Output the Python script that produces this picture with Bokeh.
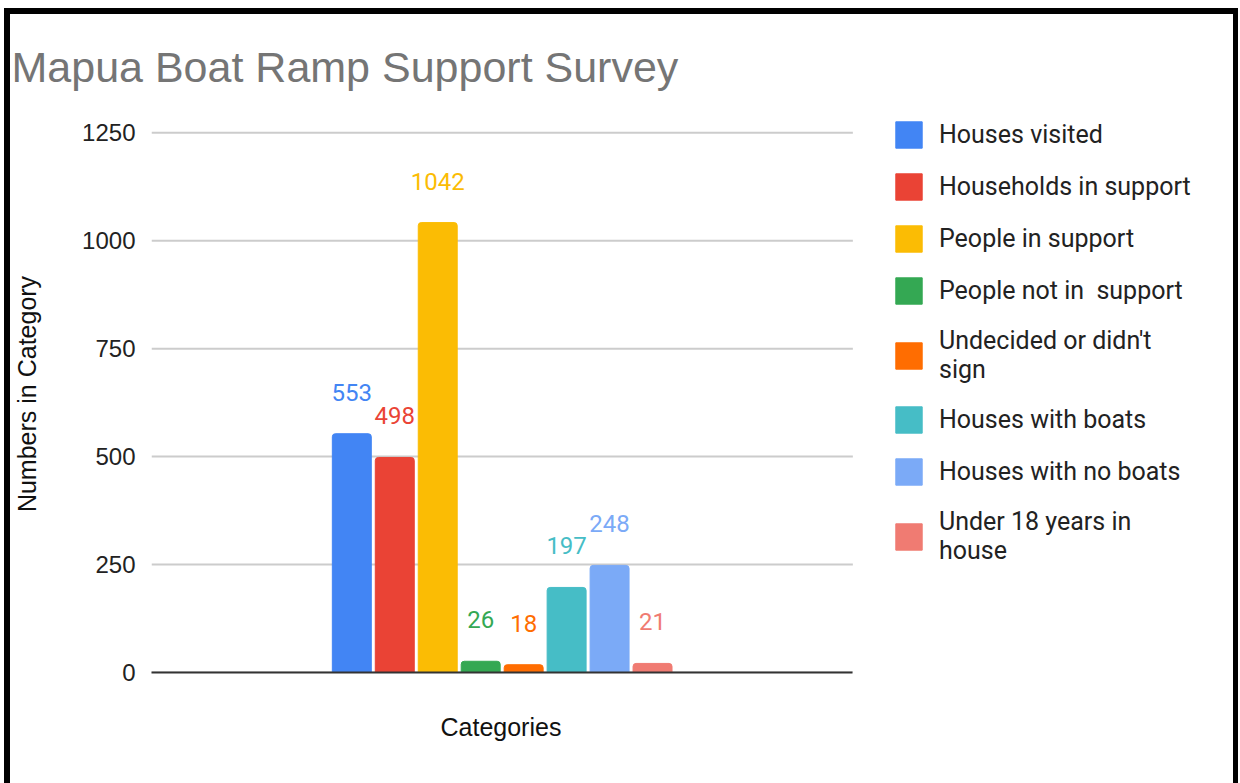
import textwrap
from bokeh.plotting import figure
from bokeh.models import (ColumnDataSource, Range1d, LabelSet, Legend, LegendItem,
                          FixedTicker, Title)
from bokeh.layouts import row
from bokeh.core.properties import value
from bokeh.embed import file_html
from bokeh.resources import INLINE

# ---- data ----
series = ["Houses visited", "Households in support", "People in support",
          "People not in  support", "Undecided or didn't sign",
          "Houses with boats", "Houses with no boats", "Under 18 years in house"]
counts = [553, 498, 1042, 26, 18, 197, 248, 21]
colors = ["#4285F4", "#EA4335", "#FBBC04", "#34A853", "#FF6D01",
          "#46BDC6", "#7BAAF7", "#F07B72"]
y_ticks = [0, 250, 500, 750, 1000, 1250]
title_text = "Mapua Boat Ramp Support Survey"
x_title = "Categories"
y_title = "Numbers in Category"

RB_FONT = value("Roboto")

# ---- layout constants (pixels) ----
n = len(series)
slot_px = 43.0            # one bar slot
plot_w = 702.0            # width of the bar area
frame_w = 1083.0          # bar area + legend area
x_title_w = 124.0         # approx. rendered width of the x-axis title
half = plot_w / slot_px / 2
mid = (n - 1) / 2
x_start = mid - half
x_plot_end = mid + half
x_end = x_start + frame_w / slot_px

src = ColumnDataSource(dict(pos=list(range(n)), name=series, count=counts,
                            color=colors, label=[str(c) for c in counts]))

p = figure(x_range=Range1d(x_start, x_end), y_range=Range1d(0, 1290),
           width=1223, height=769, output_backend="svg", toolbar_location=None,
           min_border_left=140, min_border_right=0, min_border_top=101,
           min_border_bottom=111)
p.outline_line_color = None
p.background_fill_color = "white"
p.border_fill_color = "white"

# horizontal gridlines limited to the bar area
p.segment(x0=[x_start] * len(y_ticks), x1=[x_plot_end] * len(y_ticks),
          y0=y_ticks, y1=y_ticks, line_color="#cccccc", line_width=2)

bars = p.vbar(x="pos", top="count", width=39 / slot_px, color="color", source=src,
              border_radius=(3, 3, 0, 0))

labels = LabelSet(x="pos", y="count", text="label", source=src, y_offset=33,
                  text_align="center", text_baseline="alphabetic",
                  text_color="color", text_font=RB_FONT, text_font_size="24px")
p.add_layout(labels)

# title
p.title.text = title_text
p.title.text_font = "Liberation Sans"
p.title.text_font_size = "43px"
p.title.text_font_style = "normal"
p.title.text_color = "#757575"
p.title.align = "left"
p.title.offset = -140
p.title.standoff = 49

# y axis
p.yaxis.ticker = FixedTicker(ticks=y_ticks)
p.yaxis.axis_line_color = None
p.yaxis.major_tick_line_color = None
p.yaxis.major_tick_out = 0
p.yaxis.major_tick_in = 0
p.yaxis.minor_tick_line_color = None
p.yaxis.major_label_standoff = 16
p.yaxis.major_label_text_font = "Liberation Sans"
p.yaxis.major_label_text_font_size = "24px"
p.yaxis.major_label_text_color = "#222222"
p.yaxis.axis_label = y_title
p.yaxis.axis_label_text_font = "Liberation Sans"
p.yaxis.axis_label_text_font_size = "25px"
p.yaxis.axis_label_text_font_style = "normal"
p.yaxis.axis_label_text_color = "#111111"
p.yaxis.axis_label_standoff = 38

# x axis: the base line over the bar area only
p.xaxis.bounds = (x_start, x_plot_end)
p.xaxis.ticker = FixedTicker(ticks=[])
p.xaxis.major_tick_line_color = None
p.xaxis.minor_tick_line_color = None
p.xaxis.major_tick_out = 0
p.xaxis.major_label_standoff = 0
p.xaxis.axis_line_color = "#333333"
p.xaxis.axis_line_width = 2

# x axis title, centred under the bar area
x_label = Title(text=x_title, align="left", offset=(plot_w - x_title_w) / 2,
                text_font="Liberation Sans", text_font_size="25px",
                text_font_style="normal", text_color="#111111", standoff=76)
p.add_layout(x_label, "below")

p.xgrid.visible = False
p.ygrid.visible = False

# ---- legend (right of the bar area) ----
wrapped = ["\n".join(textwrap.wrap(s, 22)) for s in series]
items = [LegendItem(label=wrapped[i], renderers=[bars], index=i) for i in range(n)]
legend = Legend(items=items, location=(741, 107), orientation="vertical",
                label_text_font="Roboto", label_text_font_size="25px",
                label_text_color="#222222", label_text_line_height=1.18,
                glyph_width=33, glyph_height=33, label_standoff=14,
                spacing=19, padding=0, margin=0, border_line_color=None,
                background_fill_alpha=0)
p.add_layout(legend, "center")

layout = row(p, styles={"border-top": "6px solid black",
                        "border-left": "6px solid black",
                        "border-right": "5px solid black"},
             margin=(8, 0, 0, 4))

with open("out.html", "w") as f:
    f.write(file_html(layout, INLINE))
